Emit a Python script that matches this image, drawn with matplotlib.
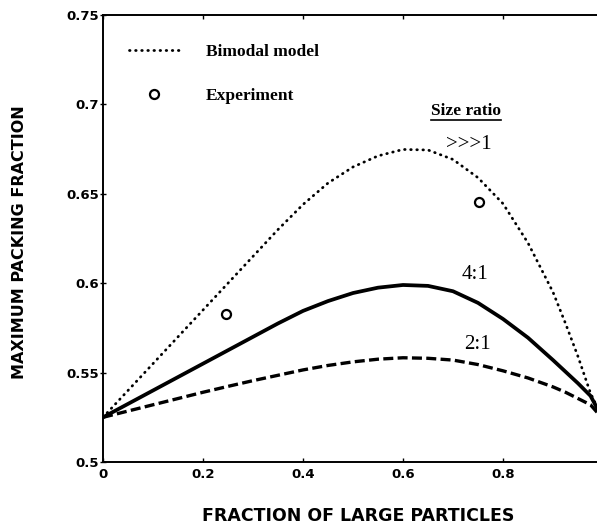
import numpy as np
import matplotlib
matplotlib.use("Agg")
import matplotlib.pyplot as plt
from matplotlib.lines import Line2D

# fraction of large particles
frac = [0.0, 0.05, 0.1, 0.15, 0.2, 0.25, 0.3, 0.35, 0.4, 0.45, 0.5, 0.55,
        0.6, 0.65, 0.7, 0.75, 0.8, 0.85, 0.9, 0.925, 0.95, 0.975, 1.0]

# bimodal model, size ratio >>>1 (dotted)
pack_inf = [0.525, 0.540, 0.555, 0.570, 0.585, 0.600, 0.615, 0.630, 0.644, 0.656, 0.665, 0.6712,
            0.6748, 0.6745, 0.6692, 0.659, 0.6445, 0.6225, 0.595, 0.5775, 0.559, 0.5385, 0.524]
# size ratio 4:1 (solid)
pack_4 = [0.525, 0.5325, 0.540, 0.5475, 0.555, 0.5625, 0.570, 0.5775, 0.5845, 0.590, 0.5945, 0.5975,
          0.599, 0.5985, 0.5955, 0.589, 0.580, 0.5695, 0.557, 0.5505, 0.544, 0.537, 0.524]
# size ratio 2:1 (dashed)
pack_2 = [0.525, 0.5285, 0.532, 0.5355, 0.539, 0.5423, 0.5455, 0.5485, 0.5515, 0.554, 0.556, 0.5575,
          0.5583, 0.558, 0.557, 0.5545, 0.551, 0.547, 0.542, 0.539, 0.5355, 0.532, 0.524]

# experiment points
exp_x = [0.246, 0.751]
exp_y = [0.583, 0.6456]

xticks = [0, 0.2, 0.4, 0.6, 0.8]
yticks = [0.5, 0.55, 0.6, 0.65, 0.7, 0.75]

fig = plt.figure(figsize=(5.97, 5.27), dpi=100)
ax = fig.add_axes([103 / 597, 65 / 527, 500 / 597, 447 / 527])

ax.plot(frac, pack_inf, color="black", lw=2.0, linestyle=(0, (0.2, 2.0)),
        dash_capstyle="round", label="Bimodal model")
ax.plot(frac, pack_4, color="black", lw=2.7, solid_capstyle="round")
ax.plot(frac, pack_2, color="black", lw=2.4, linestyle=(0, (3.0, 1.3)))
ax.plot(exp_x, exp_y, linestyle="none", marker="o", ms=6.5, mfc="none",
        mec="black", mew=1.6, label="Experiment")

ax.set_xlim(0, 1)
ax.set_ylim(0.5, 0.75)
ax.set_xticks(xticks)
ax.set_xticklabels(["%g" % t for t in xticks])
ax.set_yticks(yticks)
ax.set_yticklabels(["%g" % t for t in yticks])
ax.tick_params(axis="x", direction="in", length=3, width=1, pad=4, top=True)
ax.tick_params(axis="y", direction="inout", length=4, width=1, pad=1, right=True)
for lab in ax.get_xticklabels() + ax.get_yticklabels():
    lab.set_fontfamily("DejaVu Sans")
    lab.set_fontweight("bold")
    lab.set_fontsize(9.5)
for sp in ax.spines.values():
    sp.set_linewidth(1.4)

ax.set_xlabel("FRACTION OF LARGE PARTICLES", fontfamily="DejaVu Sans",
              fontweight="heavy", fontsize=12.5)
ax.xaxis.set_label_coords(0.51, -0.1)
ax.set_ylabel("MAXIMUM PACKING FRACTION", fontfamily="DejaVu Sans",
              fontweight="heavy", fontsize=11.5)
ax.yaxis.set_label_coords(-0.152, 0.492)

serif = "Liberation Serif"
leg = ax.legend(loc="upper left", bbox_to_anchor=(0.034, 0.955), frameon=False,
                borderpad=0, handlelength=2.9, handletextpad=1.55, labelspacing=1.6,
                prop={"family": serif, "weight": "bold", "size": 12.5})

ax.text(0.732, 0.6775, ">>>1", family=serif, fontsize=15, ha="center", va="center")
ax.text(0.744, 0.6048, "4:1", family=serif, fontsize=15, ha="center", va="center")
ax.text(0.748, 0.5655, "2:1", family=serif, fontsize=15, ha="center", va="center")
sr = ax.text(0.726, 0.6965, "Size ratio", family=serif, fontweight="bold",
             fontsize=12.5, ha="center", va="center")

# underline for "Size ratio"
fig.canvas.draw()
bb = sr.get_window_extent().transformed(ax.transAxes.inverted())
ax.add_line(Line2D([bb.x0, bb.x1], [bb.y0 - 0.002, bb.y0 - 0.002],
                   transform=ax.transAxes, color="black", lw=1.2))

fig.savefig("out.png", dpi=100)
